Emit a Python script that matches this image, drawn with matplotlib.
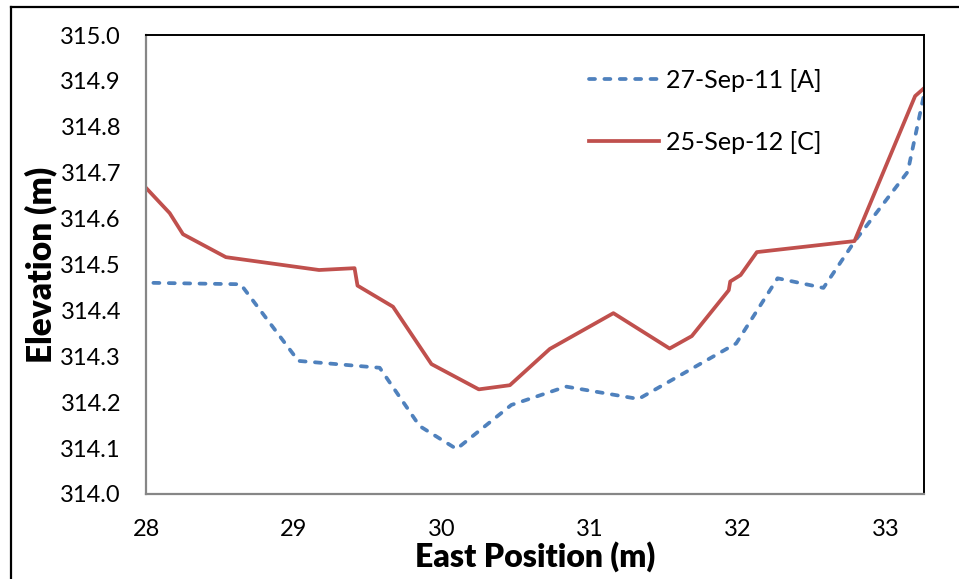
import matplotlib
matplotlib.use("Agg")
from matplotlib import pyplot as plt
from matplotlib.lines import Line2D
from matplotlib.ticker import FormatStrFormatter, MultipleLocator

# survey of 27-Sep-11 [A]
east_a = [28.05, 28.64, 29.03, 29.58, 29.85, 30.10, 30.47, 30.84, 31.33,
          31.99, 32.27, 32.58, 32.79, 33.15, 33.26]
elev_a = [314.460, 314.457, 314.290, 314.275, 314.148, 314.098, 314.194,
          314.234, 314.207, 314.328, 314.470, 314.449, 314.550, 314.702,
          314.870]

# survey of 25-Sep-12 [C]
east_c = [28.00, 28.16, 28.25, 28.54, 29.17, 29.41, 29.43, 29.67, 29.93,
          30.25, 30.46, 30.73, 31.16, 31.54, 31.69, 31.94, 31.95, 32.02,
          32.13, 32.79, 33.20, 33.26]
elev_c = [314.667, 314.612, 314.566, 314.516, 314.488, 314.492, 314.454,
          314.408, 314.283, 314.228, 314.237, 314.316, 314.394, 314.317,
          314.344, 314.444, 314.463, 314.477, 314.527, 314.551, 314.867,
          314.884]

label_a = '27-Sep-11 [A]'
label_c = '25-Sep-12 [C]'

plt.rcParams['font.family'] = ['Lato', 'DejaVu Sans']

fig = plt.figure(figsize=(9.59, 5.79), dpi=100)
ax = fig.add_axes([146 / 959, 85 / 579, 778 / 959, 459 / 579])

ax.plot(east_a, elev_a, color='#4F81BD', lw=2.7, dashes=(1.6, 2.5),
        dash_capstyle='round', label=label_a)
ax.plot(east_c, elev_c, color='#C0504D', lw=2.7, solid_joinstyle='round',
        label=label_c)

ax.set_xlim(28, 33.26)
ax.set_ylim(314.0, 315.0)
ax.xaxis.set_major_locator(MultipleLocator(1))
ax.yaxis.set_major_locator(MultipleLocator(0.1))
ax.yaxis.set_major_formatter(FormatStrFormatter('%.1f'))
ax.tick_params(length=0, labelsize=17)
ax.tick_params(axis='x', pad=18)
ax.tick_params(axis='y', pad=18)

# axis lines grey, plot area border black
for side in ['left', 'bottom']:
    ax.spines[side].set_color('#868686')
    ax.spines[side].set_linewidth(1.6)
for side in ['top', 'right']:
    ax.spines[side].set_color('black')
    ax.spines[side].set_linewidth(1.4)

ax.set_xlabel('East Position (m)', fontsize=23, fontweight='heavy', labelpad=1)
ax.set_ylabel('Elevation (m)', fontsize=24, fontweight='heavy', labelpad=2)

ax.legend(loc='upper left', bbox_to_anchor=(0.54, 0.975), frameon=False,
          fontsize=18, handlelength=2.8, handletextpad=0.3, labelspacing=1.55)

# chart border
fig.add_artist(Line2D([11 / 959, 11 / 959], [0, 1 - 7 / 579], color='black',
                      lw=1.6, transform=fig.transFigure))
fig.add_artist(Line2D([11 / 959, 1], [1 - 7 / 579, 1 - 7 / 579], color='black',
                      lw=1.6, transform=fig.transFigure))

plt.savefig('out.png', dpi=100)
